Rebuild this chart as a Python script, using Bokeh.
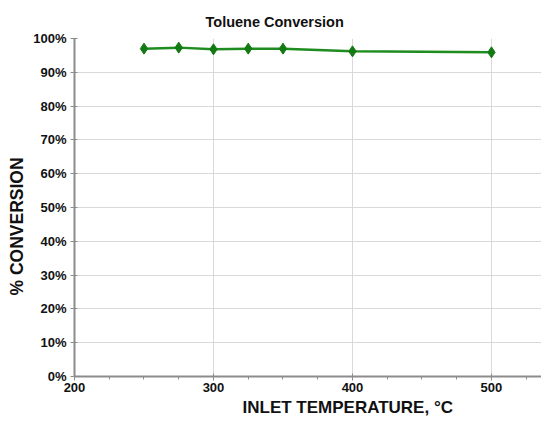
from bokeh.plotting import figure
from bokeh.embed import file_html
from bokeh.resources import INLINE
from bokeh.models import FixedTicker, PrintfTickFormatter, Range1d, Title

temps = [250, 275, 300, 325, 350, 400, 500]
conversion = [97.0, 97.3, 96.8, 97.0, 97.0, 96.2, 95.9]
x_ticks = [200, 300, 400, 500]
x_minor = [200 + 25 * i for i in range(15)]
y_ticks = [0, 10, 20, 30, 40, 50, 60, 70, 80, 90, 100]

FONT = "Liberation Sans"

p = figure(width=541, height=417, output_backend="svg", toolbar_location=None,
           x_range=Range1d(200, 536), y_range=Range1d(0, 100),
           title="Toluene Conversion",
           min_border_left=65, min_border_right=0, min_border_top=38, min_border_bottom=0)

p.title.align = "left"
p.title.text_font = FONT
p.title.text_font_size = "14.5px"
p.title.text_font_style = "bold"
p.title.text_color = "#111111"
p.title.offset = 131
p.title.standoff = 17

p.line(temps, conversion, line_color="#1e8c1e", line_width=2.5)
p.scatter(temps, conversion, marker="diamond", size=11, fill_color="#127a12", line_color="#127a12")

p.xaxis.ticker = FixedTicker(ticks=x_ticks, minor_ticks=x_minor)
p.yaxis.ticker = FixedTicker(ticks=y_ticks)
p.yaxis.formatter = PrintfTickFormatter(format="%d%%")

for ax in (p.xaxis, p.yaxis):
    ax.major_label_text_font = FONT
    ax.major_label_text_font_size = "13px"
    ax.major_label_text_font_style = "bold"
    ax.major_label_text_color = "#111111"
    ax.axis_line_color = "#8c8c8c"
    ax.axis_line_width = 2
    ax.major_tick_line_color = "#8c8c8c"
    ax.minor_tick_line_color = "#8c8c8c"
    ax.major_tick_in = 3
    ax.major_tick_out = 4
    ax.minor_tick_in = 0
    ax.minor_tick_out = 3

p.xaxis.major_label_standoff = 2
p.yaxis.major_label_standoff = 4
p.yaxis.minor_tick_line_color = None

xlabel = Title(text="INLET TEMPERATURE, °C", align="left", offset=168,
               text_font=FONT, text_font_size="17px", text_font_style="bold",
               text_color="#111111", standoff=2)
p.add_layout(xlabel, "below")

ylabel = Title(text="% CONVERSION", align="left", offset=81,
               text_font=FONT, text_font_size="17.5px", text_font_style="bold",
               text_color="#111111", standoff=8)
p.add_layout(ylabel, "left")

p.xgrid.grid_line_color = "#d9d9d9"
p.ygrid.grid_line_color = "#d9d9d9"
p.xgrid.grid_line_width = 1
p.ygrid.grid_line_width = 1
p.outline_line_color = None

open("out.html", "w").write(file_html(p, INLINE))
